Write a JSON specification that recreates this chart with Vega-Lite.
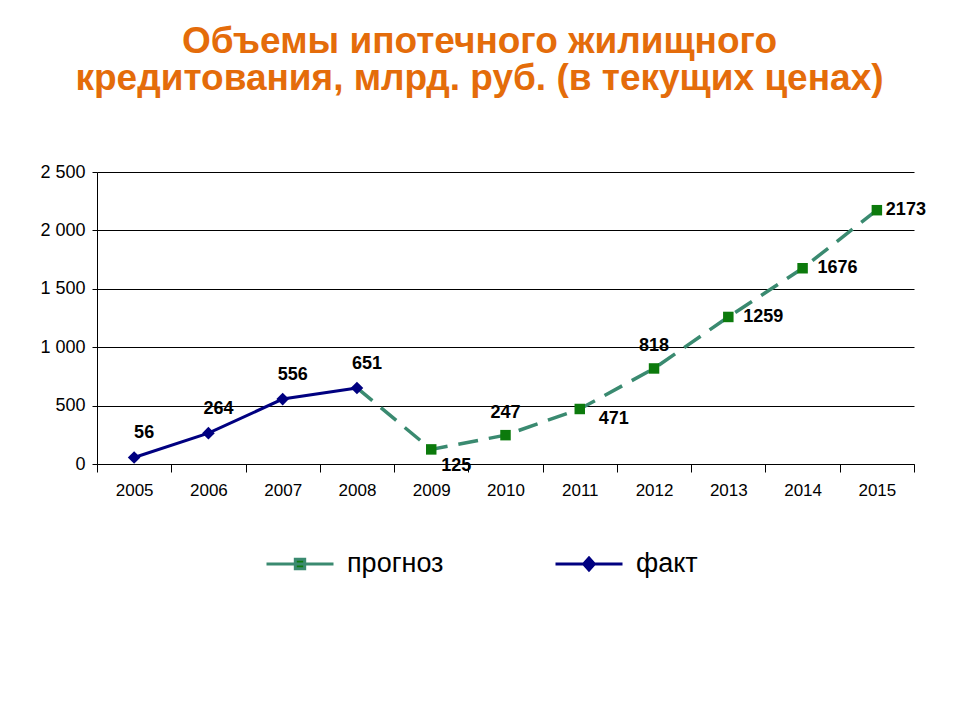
{
  "$schema": "https://vega.github.io/schema/vega-lite/v6.json",
  "width": 817,
  "height": 292,
  "autosize": {"type": "none"},
  "padding": {"left": 97, "top": 172, "right": 46, "bottom": 256},
  "background": "white",
  "title": {
    "text": ["Объемы ипотечного жилищного", "кредитования, млрд. руб. (в текущих ценах)"],
    "font": "Liberation Sans, Arial",
    "fontSize": 37,
    "fontWeight": "bold",
    "color": "#E46C0A",
    "anchor": "middle",
    "frame": "group",
    "dx": -26,
    "offset": 65,
    "lineHeight": 37
  },
  "data": {
    "values": [
      {"year": "2005", "value": 56, "series": "факт"},
      {"year": "2006", "value": 264, "series": "факт"},
      {"year": "2007", "value": 556, "series": "факт"},
      {"year": "2008", "value": 651, "series": "факт"},
      {"year": "2008", "value": 651, "series": "прогноз"},
      {"year": "2009", "value": 125, "series": "прогноз"},
      {"year": "2010", "value": 247, "series": "прогноз"},
      {"year": "2011", "value": 471, "series": "прогноз"},
      {"year": "2012", "value": 818, "series": "прогноз"},
      {"year": "2013", "value": 1259, "series": "прогноз"},
      {"year": "2014", "value": 1676, "series": "прогноз"},
      {"year": "2015", "value": 2173, "series": "прогноз"}
    ]
  },
  "encoding": {
    "x": {
      "field": "year",
      "type": "ordinal",
      "bandPosition": 0.5,
      "scale": {"type": "band", "paddingInner": 0, "paddingOuter": 0,
        "domain": ["2005","2006","2007","2008","2009","2010","2011","2012","2013","2014","2015"]},
      "axis": {
        "title": null,
        "labelAngle": 0,
        "tickBand": "extent",
        "grid": false,
        "domainColor": "black",
        "tickColor": "black",
        "tickSize": 8,
        "labelPadding": 10,
        "labelFont": "Liberation Sans, Arial",
        "labelFontSize": 17,
        "labelColor": "black"
      }
    },
    "y": {
      "field": "value",
      "type": "quantitative",
      "scale": {"domain": [0, 2500], "nice": false},
      "axis": {
        "title": null,
        "values": [0, 500, 1000, 1500, 2000, 2500],
        "labelExpr": "replace(format(datum.value, ','), ',', ' ')",
        "grid": true,
        "gridColor": "black",
        "gridWidth": 1,
        "gridOpacity": 1,
        "domain": true,
        "domainColor": "black",
        "tickColor": "black",
        "tickSize": 5,
        "labelPadding": 7,
        "labelFont": "Liberation Sans, Arial",
        "labelFontSize": 18,
        "labelColor": "black"
      }
    }
  },
  "layer": [
    {
      "transform": [{"filter": "datum.series === 'прогноз'"}],
      "mark": {"type": "line", "color": "#3A8A70", "strokeWidth": 3.5, "strokeDash": [20, 11]}
    },
    {
      "transform": [{"filter": "datum.series === 'факт'"}],
      "mark": {"type": "line", "color": "#000080", "strokeWidth": 3}
    },
    {
      "transform": [{"filter": "datum.series === 'прогноз' && datum.year !== '2008'"}],
      "mark": {"type": "point", "shape": "square", "filled": true, "color": "#0C7A0C", "size": 110, "opacity": 1}
    },
    {
      "transform": [{"filter": "datum.series === 'факт'"}],
      "mark": {"type": "point", "shape": "diamond", "filled": true, "color": "#000080", "size": 160, "opacity": 1}
    },
    {
      "transform": [{"filter": "datum.value < 0"}],
      "mark": {"type": "point", "filled": false, "strokeWidth": 3, "opacity": 1},
      "encoding": {
        "stroke": {"field": "series", "type": "nominal",
          "scale": {"domain": ["прогноз", "факт"], "range": ["#3A8A70", "#000080"]},
          "legend": {
            "orient": "none", "legendX": 168, "legendY": 357, "direction": "horizontal",
            "title": null, "padding": 0, "columnPadding": 105, "labelOffset": 12,
            "symbolSize": 4489, "symbolStrokeWidth": 3, "symbolOpacity": 1,
            "labelFont": "Liberation Sans, Arial", "labelFontSize": 27, "labelColor": "black"
          }
        },
        "fill": {"field": "series", "type": "nominal",
          "scale": {"domain": ["прогноз", "факт"], "range": ["#0C7A0C", "#000080"]}
        },
        "shape": {"field": "series", "type": "nominal",
          "scale": {"domain": ["прогноз", "факт"], "range": [
            "M-1,0H1M-0.14,-0.14H0.14V0.14H-0.14Z",
            "M-1,0H1M0,-0.18L0.16,0L0,0.18L-0.16,0Z"
          ]}
        }
      }
    },
    {
      "transform": [{"filter": "datum.series === 'факт'"}],
      "mark": {"type": "text", "dx": 10, "dy": -24, "font": "Liberation Sans, Arial", "fontSize": 18, "fontWeight": "bold", "color": "black"},
      "encoding": {"text": {"field": "value", "type": "quantitative"}}
    },
    {
      "transform": [{"filter": "datum.series === 'прогноз' && (datum.year === '2010' || datum.year === '2012')"}],
      "mark": {"type": "text", "dx": 0, "dy": -22, "font": "Liberation Sans, Arial", "fontSize": 18, "fontWeight": "bold", "color": "black"},
      "encoding": {"text": {"field": "value", "type": "quantitative"}}
    },
    {
      "transform": [{"filter": "datum.series === 'прогноз' && datum.year === '2009'"}],
      "mark": {"type": "text", "dx": 25, "dy": 17, "font": "Liberation Sans, Arial", "fontSize": 18, "fontWeight": "bold", "color": "black"},
      "encoding": {"text": {"field": "value", "type": "quantitative"}}
    },
    {
      "transform": [{"filter": "datum.series === 'прогноз' && datum.year === '2011'"}],
      "mark": {"type": "text", "dx": 34, "dy": 10, "font": "Liberation Sans, Arial", "fontSize": 18, "fontWeight": "bold", "color": "black"},
      "encoding": {"text": {"field": "value", "type": "quantitative"}}
    },
    {
      "transform": [{"filter": "datum.series === 'прогноз' && (datum.year === '2013' || datum.year === '2014')"}],
      "mark": {"type": "text", "align": "left", "dx": 15, "dy": 0, "font": "Liberation Sans, Arial", "fontSize": 18, "fontWeight": "bold", "color": "black"},
      "encoding": {"text": {"field": "value", "type": "quantitative"}}
    },
    {
      "transform": [{"filter": "datum.series === 'прогноз' && datum.year === '2015'"}],
      "mark": {"type": "text", "align": "left", "dx": 9, "dy": 0, "font": "Liberation Sans, Arial", "fontSize": 18, "fontWeight": "bold", "color": "black"},
      "encoding": {"text": {"field": "value", "type": "quantitative"}}
    }
  ],
  "config": {
    "view": {"stroke": null},
    "axis": {"domainWidth": 1, "tickWidth": 1}
  }
}
